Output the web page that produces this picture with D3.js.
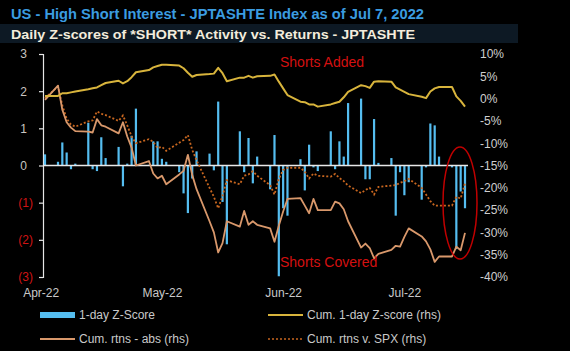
<!DOCTYPE html>
<html>
<head>
<meta charset="utf-8">
<script src="https://cdn.jsdelivr.net/npm/d3@7"></script>
<style>
  html, body { margin: 0; padding: 0; background: #000; }
  svg { display: block; font-family: "Liberation Sans", Arial, sans-serif; }
</style>
</head>
<body>
<div id="chart"></div>
<script>
// trading days shown on the chart
const dates = [
  "2022-04-01","2022-04-04","2022-04-05","2022-04-06","2022-04-07","2022-04-08",
  "2022-04-11","2022-04-12","2022-04-13","2022-04-14","2022-04-15",
  "2022-04-18","2022-04-19","2022-04-20","2022-04-21","2022-04-22",
  "2022-04-25","2022-04-26","2022-04-27","2022-04-28","2022-04-29",
  "2022-05-02","2022-05-03","2022-05-04","2022-05-05","2022-05-06",
  "2022-05-09","2022-05-10","2022-05-11","2022-05-12","2022-05-13",
  "2022-05-16","2022-05-17","2022-05-18","2022-05-19","2022-05-20",
  "2022-05-23","2022-05-24","2022-05-25","2022-05-26","2022-05-27",
  "2022-05-30","2022-05-31",
  "2022-06-01","2022-06-02","2022-06-03",
  "2022-06-06","2022-06-07","2022-06-08","2022-06-09","2022-06-10",
  "2022-06-13","2022-06-14","2022-06-15","2022-06-16","2022-06-17",
  "2022-06-20","2022-06-21","2022-06-22","2022-06-23","2022-06-24",
  "2022-06-27","2022-06-28","2022-06-29","2022-06-30",
  "2022-07-01","2022-07-04","2022-07-05","2022-07-06","2022-07-07"
];

// 1-day Z-score (lhs)
const zScore = [
  0.3, 0.1, 0.62, 0.35, -0.1, 0.05, 1.15, -0.1, -0.15, 0.76, 0.2, 0.5, -0.56, 0.05, 0.8, 1.53, 0.02, 0.65, 0.65, 0.18, 0.1,
  -0.18, -0.75, -1.28, -0.35, 0.38, 0.32, -0.13, 1.72, -0.98, -2.12, 0.92, -0.18, 0.74, -0.48, 0.24, -0.64, 0.82, -2.98, -1.15, -1.35, 0.17, -0.67,
  0.56, -0.05, -0.15, 0.92, -0.1, 0.65, 0.24, 1.68, 1.8, -0.37, -0.37, 1.25, 0.07, 0.2, -1.35, -0.18, -0.8, -0.45, -0.92, -0.05, 1.13, 1.08,
  0.24, -0.05, -2.25, -0.7, -1.15
];

// Cum. 1-day Z-score (rhs, %)
const cumZ = [
  0.6, 0.6, 1.2, 1.2, 1.4, 1.6, 2.1, 2.3, 2.5, 3.0, 3.5, 4.0, 3.4, 3.9, 4.8, 5.9, 6.4, 7.0, 7.3, 7.6, 7.6,
  7.4, 6.8, 5.8, 4.9, 5.3, 5.5, 5.6, 6.9, 5.7, 3.9, 4.7, 4.7, 5.1, 4.7, 5.0, 5.1, 5.4, 3.8, 2.3, 0.8, -0.7, -0.8,
  -1.3, -1.3, -1.8, -1.3, -1.0, -0.7, 0.3, 1.5, 3.0, 2.8, 2.4, 3.8, 3.9, 3.8, 2.5, 2.0, 1.5, 1.0, 0.4, 0.1, 1.6, 2.3,
  2.6, 2.6, 0.5, -0.5, -1.8
];

// Cum. rtns - abs (rhs, %)
const cumAbs = [
  -0.3, 2.9, -2.5, -5.3, -6.5, -7.3, -7.4, -7.6, -4.6, -6.0, -6.3, -7.8, -5.3, -8.5, -11.0, -15.0, -14.0, -16.8, -17.9, -17.3, -19.2,
  -17.0, -16.2, -12.6, -17.1, -20.3, -27.5, -30.0, -34.5, -32.4, -27.5, -28.7, -25.2, -28.3, -27.5, -28.3, -29.1, -32.1, -28.5, -25.3, -22.5, -22.3, -24.0,
  -25.7, -22.5, -25.0, -25.0, -23.1, -23.5, -24.8, -27.5, -33.4, -32.5, -33.5, -35.8, -34.8, -33.9, -33.0, -33.2, -31.0, -29.1, -30.9, -32.0, -33.8, -36.6,
  -35.4, -35.4, -33.2, -34.0, -30.1
];

// Cum. rtns v. SPX (rhs, %)
const cumSpx = [
  0.1, 2.7, -1.5, -4.5, -5.8, -6.3, -5.1, -4.9, -2.9, -3.4, -3.7, -5.0, -3.8, -6.0, -8.5, -10.0, -9.1, -9.7, -11.1, -10.8, -11.7,
  -9.9, -9.3, -8.2, -11.5, -13.8, -20.0, -22.0, -24.6, -21.8, -18.3, -19.2, -17.3, -17.0, -16.3, -17.3, -19.4, -21.5, -18.0, -16.0, -15.5, -15.5, -16.4,
  -17.9, -16.8, -17.3, -17.5, -16.9, -17.8, -18.5, -19.5, -21.2, -20.5, -20.0, -21.5, -19.8, -19.5, -19.4, -18.9, -18.5, -18.0, -20.0, -21.5, -23.0, -24.0,
  -24.0, -24.0, -22.0, -22.4, -19.0
];

// axis labels
const xTickDates = ["2022-03-31", "2022-04-28", "2022-05-26", "2022-06-23"];
const xTickLabels = ["Apr-22", "May-22", "Jun-22", "Jul-22"];
const leftTicks = [-3, -2, -1, 0, 1, 2, 3];
const rightTicks = [-40, -35, -30, -25, -20, -15, -10, -5, 0, 5, 10];

const titleText = "US - High Short Interest - JPTASHTE Index as of Jul 7, 2022";
const subtitleText = "Daily Z-scores of *SHORT* Activity vs. Returns - JPTASHTE";
const legendLabels = ["1-day Z-Score", "Cum. 1-day Z-score (rhs)", "Cum. rtns - abs (rhs)", "Cum. rtns v. SPX (rhs)"];

function drawChart() {
    const width = 570, height = 351;
    const parse = d3.timeParse("%Y-%m-%d");
    const days = dates.map(parse);

    const svg = d3.select("#chart").append("svg")
        .attr("width", width)
        .attr("height", height);

    svg.append("rect").attr("width", width).attr("height", height).attr("fill", "#000");

    // titles
    svg.append("text")
        .attr("x", 11).attr("y", 19)
        .attr("fill", "#3b9ce0")
        .attr("font-size", 14.5).attr("font-weight", "bold")
        .attr("textLength", 413).attr("lengthAdjust", "spacingAndGlyphs")
        .text(titleText);

    svg.append("rect")
        .attr("x", 0).attr("y", 24).attr("width", 518).attr("height", 19)
        .attr("fill", "#0d1924");

    svg.append("text")
        .attr("x", 11).attr("y", 38.5)
        .attr("fill", "#f3ecdc")
        .attr("font-size", 13.5).attr("font-weight", "bold")
        .attr("textLength", 404).attr("lengthAdjust", "spacingAndGlyphs")
        .text(subtitleText);

    // scales
    const x = d3.scaleTime()
        .domain([days[0], days[days.length - 1]])
        .range([45, 465]);
    const yL = d3.scaleLinear().domain([-3, 3]).range([277, 54]);
    const yR = d3.scaleLinear().domain([-40, 10]).range([277, 54]);

    // left axis
    const gL = svg.append("g")
        .attr("transform", "translate(43,0)")
        .call(d3.axisLeft(yL).tickValues(leftTicks).tickSize(4).tickSizeOuter(4)
            .tickFormat(d => d < 0 ? "(" + (-d) + ")" : d));
    gL.select(".domain").attr("stroke", "#e6e6e6").attr("stroke-width", 1.2);
    gL.selectAll(".tick line").attr("stroke", "#e6e6e6").attr("stroke-width", 1.2);
    gL.selectAll(".tick text")
        .attr("font-size", 12)
        .attr("font-family", "Liberation Sans, Arial, sans-serif")
        .attr("x", d => d < 0 ? -10 : -16)
        .attr("fill", d => d < 0 ? "#d01414" : "#c9c5c0");

    // right axis
    const gR = svg.append("g")
        .attr("transform", "translate(478,0)")
        .call(d3.axisRight(yR).tickValues(rightTicks).tickSize(0).tickPadding(2)
            .tickFormat(d => d + "%"));
    gR.select(".domain").remove();
    gR.selectAll(".tick text")
        .attr("font-size", 12)
        .attr("font-family", "Liberation Sans, Arial, sans-serif")
        .attr("fill", "#cfcfcf");

    // bottom labels
    const gX = svg.append("g")
        .attr("transform", "translate(0,288)")
        .call(d3.axisBottom(x).tickValues(xTickDates.map(parse)).tickSize(0).tickPadding(0)
            .tickFormat((d, i) => xTickLabels[i]));
    gX.select(".domain").remove();
    gX.selectAll(".tick text")
        .attr("font-size", 12)
        .attr("font-family", "Liberation Sans, Arial, sans-serif")
        .attr("fill", "#c9c9c9");

    // bars
    svg.append("g")
        .selectAll("rect")
        .data(zScore)
        .join("rect")
        .attr("x", (d, i) => x(days[i]) - 1.1)
        .attr("width", 2.2)
        .attr("y", d => Math.min(yL(d), yL(0)))
        .attr("height", d => Math.abs(yL(d) - yL(0)))
        .attr("fill", "#55bdf0");

    // zero line
    svg.append("line")
        .attr("x1", 43).attr("x2", 468)
        .attr("y1", yL(0)).attr("y2", yL(0))
        .attr("stroke", "#e8e8e8").attr("stroke-width", 1.5);

    // lines on rhs
    const line = d3.line()
        .x((d, i) => x(days[i]))
        .y(d => yR(d));

    svg.append("path").datum(cumSpx)
        .attr("d", line).attr("fill", "none")
        .attr("stroke", "#c8661f").attr("stroke-width", 1.8)
        .attr("stroke-dasharray", "2,2");

    svg.append("path").datum(cumAbs)
        .attr("d", line).attr("fill", "none")
        .attr("stroke", "#d9986b").attr("stroke-width", 1.8)
        .attr("stroke-linejoin", "round");

    svg.append("path").datum(cumZ)
        .attr("d", line).attr("fill", "none")
        .attr("stroke", "#d8b43c").attr("stroke-width", 2)
        .attr("stroke-linejoin", "round");

    // annotations
    svg.append("text")
        .attr("x", 280).attr("y", 67)
        .attr("fill", "#d41010").attr("font-size", 14)
        .text("Shorts Added");
    svg.append("text")
        .attr("x", 280).attr("y", 267)
        .attr("fill", "#d41010").attr("font-size", 14)
        .text("Shorts Covered");

    svg.append("ellipse")
        .attr("cx", 460).attr("cy", 203)
        .attr("rx", 17).attr("ry", 56)
        .attr("fill", "none")
        .attr("stroke", "#c00000").attr("stroke-width", 1.5);

    // legend
    const legend = svg.append("g").attr("font-size", 12).attr("fill", "#c9c9c9");
    const legX = [40, 268, 40, 268];
    const legY = [315, 315, 339, 339];

    legend.append("rect")
        .attr("x", legX[0]).attr("y", legY[0] - 3).attr("width", 35).attr("height", 6)
        .attr("fill", "#55bdf0");
    legend.append("line")
        .attr("x1", legX[1]).attr("x2", legX[1] + 35).attr("y1", legY[1]).attr("y2", legY[1])
        .attr("stroke", "#d8b43c").attr("stroke-width", 2);
    legend.append("line")
        .attr("x1", legX[2]).attr("x2", legX[2] + 35).attr("y1", legY[2]).attr("y2", legY[2])
        .attr("stroke", "#d9986b").attr("stroke-width", 2);
    legend.append("line")
        .attr("x1", legX[3]).attr("x2", legX[3] + 35).attr("y1", legY[3]).attr("y2", legY[3])
        .attr("stroke", "#c8661f").attr("stroke-width", 1.6).attr("stroke-dasharray", "2,2");

    legend.selectAll("text")
        .data(legendLabels)
        .join("text")
        .attr("x", (d, i) => legX[i] + 39)
        .attr("y", (d, i) => legY[i] + 4)
        .text(d => d);
}

drawChart();
</script>
</body>
</html>
